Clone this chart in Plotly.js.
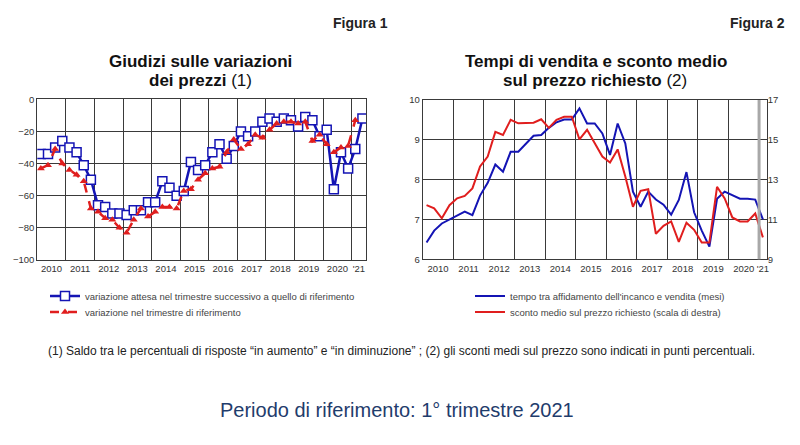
<!DOCTYPE html>
<html>
<head>
<meta charset="utf-8">
<script src="https://cdn.plot.ly/plotly-3.0.1.min.js"></script>
<style>
  body { margin: 0; background: #fff; }
  #chart { width: 800px; height: 445px; }
</style>
</head>
<body>
<div id="chart"></div>
<script>
// ---------------------------------------------------------------
// Data (quarterly, starting from 2010 Q1)
// ---------------------------------------------------------------
var years = [2010, 2011, 2012, 2013, 2014, 2015, 2016, 2017, 2018, 2019, 2020, 2021];
var yearLabels = ["2010", "2011", "2012", "2013", "2014", "2015", "2016", "2017", "2018", "2019", "2020", "'21"];

// Figura 1 - saldo risposte (2010Q1 .. 2021Q2)
var attesa = [
  -34, -34, -30, -26,
  -30, -33, -41, -50,
  -66, -67, -71, -71,
  -72, -69, -69, -64,
  -64, -51, -55, -60,
  -57, -39, -44, -41,
  -33, -28, -37, -29,
  -20, -23, -20, -14,
  -12, -14, -12, -13,
  -17, -11, -13, -23,
  -19, -56, -33, -43,
  -31, -12
];
// (2010Q1 .. 2021Q1)
var riferimento = [
  -43, -41, -31, -40,
  -44, -47, -51, -68,
  -70, -74, -75, -80,
  -83, -75, -68, -73,
  -70, -67, -67, -68,
  -57, -56, -50, -46,
  -43, -42, -33, -25,
  -31, -28, -22, -24,
  -19, -15, -14, -14,
  -15, -14, -26, -22,
  -28, -33, -30, -29,
  -13
];

// Figura 2 - tempi di vendita (mesi) e sconto medio (%)
var tempoMesi = [
  6.42, 6.72, 6.90, 7.00,
  7.10, 7.20, 7.11, 7.60,
  7.92, 8.38, 8.20, 8.70,
  8.70, 8.90, 9.10, 9.12,
  9.30, 9.44, 9.51, 9.51,
  9.79, 9.41, 9.41, 9.16,
  8.62, 9.41, 8.91, 7.70,
  7.32, 7.70, 7.50, 7.37,
  7.12, 7.49, 8.19, 7.18,
  6.72, 6.32, 7.52, 7.70,
  7.62, 7.52, 7.52, 7.50,
  7.00
];
var scontoMedio = [
  11.72, 11.56, 11.06, 11.72,
  12.06, 12.18, 12.56, 13.66,
  14.16, 15.40, 15.24, 16.00,
  15.83, 15.86, 15.86, 16.03,
  15.60, 16.00, 16.16, 16.16,
  15.02, 15.50, 14.82, 14.16,
  13.86, 14.52, 13.16, 11.64,
  12.44, 12.52, 10.28, 10.68,
  10.90, 9.88, 10.84, 10.48,
  9.84, 9.84, 12.64, 12.06,
  11.10, 10.90, 10.90, 11.30,
  10.10
];

// quarter index -> position on a year axis (centre of the quarter)
function quarterX(arr) {
  return arr.map(function(v, i) { return years[0] + (i + 0.5) / 4; });
}

var FONT = "Liberation Sans, Arial, sans-serif";
var GRID = "#3a3a3a";
var BLUE = "#1414b4";
var RED = "#e01e1e";

// ---------------------------------------------------------------
// Traces
// ---------------------------------------------------------------
var traces = [
  {
    x: quarterX(attesa), y: attesa,
    name: "variazione attesa nel trimestre successivo a quello di riferimento",
    type: "scatter", mode: "lines+markers",
    line: {color: BLUE, width: 2.5},
    marker: {symbol: "square", size: 9, color: "#fff", line: {color: BLUE, width: 1.5}},
    xaxis: "x", yaxis: "y", legend: "legend"
  },
  {
    x: quarterX(riferimento), y: riferimento,
    name: "variazione nel trimestre di riferimento",
    type: "scatter", mode: "lines+markers",
    line: {color: RED, width: 2.5, dash: "dash"},
    marker: {symbol: "triangle-up", size: 7, color: RED},
    xaxis: "x", yaxis: "y", legend: "legend2"
  },
  {
    x: quarterX(tempoMesi), y: tempoMesi,
    name: "tempo tra affidamento dell'incanco e vendita (mesi)",
    type: "scatter", mode: "lines",
    line: {color: BLUE, width: 2},
    xaxis: "x2", yaxis: "y3", legend: "legend3"
  },
  {
    x: quarterX(scontoMedio), y: scontoMedio,
    name: "sconto medio sul prezzo richiesto (scala di destra)",
    type: "scatter", mode: "lines",
    line: {color: RED, width: 2},
    xaxis: "x2", yaxis: "y4", legend: "legend4"
  }
];

// ---------------------------------------------------------------
// Axes
// ---------------------------------------------------------------
var yearBounds = years.slice(1);
var leftTickVals = years.slice(0, -1).map(function(y) { return y + 0.5; }).concat([2021.25]);
var rightTickVals = years.slice(0, -1).map(function(y) { return y + 0.5; }).concat([2021.125]);

function xAxis(domain, range, tickvals, anchor) {
  return {
    domain: domain, range: range, anchor: anchor,
    tickmode: "array", tickvals: tickvals, ticktext: yearLabels,
    showgrid: false, zeroline: false, ticks: "",
    showline: true, mirror: true, linecolor: GRID, linewidth: 1,
    tickfont: {size: 9.5, color: "#333", family: FONT},
    minor: {tickmode: "array", tickvals: yearBounds, showgrid: true, gridcolor: GRID, gridwidth: 1, ticks: ""},
    fixedrange: true
  };
}

function yAxis(domain, range, dtick, extra) {
  var ax = {
    domain: domain, range: range, dtick: dtick, tick0: range[0],
    zeroline: false, ticks: "",
    tickfont: {size: 9.5, color: "#333", family: FONT},
    fixedrange: true
  };
  for (var k in extra) ax[k] = extra[k];
  return ax;
}

function legendAt(px, py) {
  return {
    x: px / 800, y: 1 - py / 445, xanchor: "left", yanchor: "middle",
    font: {size: 9.5, color: "#444", family: FONT},
    bgcolor: "rgba(0,0,0,0)", tracegroupgap: 0, itemwidth: 30
  };
}

var layout = {
  width: 800, height: 445, autosize: false,
  margin: {l: 0, r: 0, t: 0, b: 0},
  paper_bgcolor: "#fff", plot_bgcolor: "#fff",
  font: {family: FONT, color: "#222"},
  showlegend: true,

  xaxis: xAxis([0.0466, 0.4575], [2010, 2021.5], leftTickVals, "y"),
  yaxis: yAxis([0.4157, 0.7769], [-100, 0], 20,
    {anchor: "x", showgrid: true, gridcolor: GRID, showline: true, mirror: true, linecolor: GRID}),
  yaxis2: yAxis([0.4157, 0.7769], [-100, 0], 20,
    {anchor: "x", overlaying: "y", side: "right", showgrid: false}),

  xaxis2: xAxis([0.5284, 0.9584], [2010, 2021.25], rightTickVals, "y3"),
  yaxis3: yAxis([0.4173, 0.7753], [6, 10], 1,
    {anchor: "x2", showgrid: true, gridcolor: GRID, showline: true, mirror: true, linecolor: GRID}),
  yaxis4: yAxis([0.4173, 0.7753], [9, 17], 2,
    {anchor: "x2", overlaying: "y3", side: "right", showgrid: false}),

  legend: legendAt(45, 296),
  legend2: legendAt(45, 312),
  legend3: legendAt(470, 296),
  legend4: legendAt(470, 312),

  shapes: [
    {type: "line", xref: "x2", yref: "y3 domain", x0: years[years.length - 1], x1: years[years.length - 1],
     y0: 0, y1: 1, line: {color: "#a8a8a8", width: 3}, layer: "above"}
  ],

  annotations: [
    {text: "<b>Figura 1</b>", x: 390 / 800, y: 1 - 23 / 445, xref: "paper", yref: "paper",
     xanchor: "right", yanchor: "middle", showarrow: false, font: {size: 14, color: "#222"}},
    {text: "<b>Figura 2</b>", x: 787 / 800, y: 1 - 23 / 445, xref: "paper", yref: "paper",
     xanchor: "right", yanchor: "middle", showarrow: false, font: {size: 14, color: "#222"}},

    {text: "<b>Giudizi sulle variazioni</b>", x: 200 / 800, y: 1 - 62 / 445, xref: "paper", yref: "paper",
     xanchor: "center", yanchor: "middle", showarrow: false, font: {size: 17, color: "#111"}},
    {text: "<b>dei prezzi</b> (1)", x: 201 / 800, y: 1 - 80 / 445, xref: "paper", yref: "paper",
     xanchor: "center", yanchor: "middle", showarrow: false, font: {size: 17, color: "#111"}},

    {text: "<b>Tempi di vendita e sconto medio</b>", x: 596 / 800, y: 1 - 62 / 445, xref: "paper", yref: "paper",
     xanchor: "center", yanchor: "middle", showarrow: false, font: {size: 17, color: "#111"}},
    {text: "<b>sul prezzo richiesto</b> (2)", x: 595 / 800, y: 1 - 80 / 445, xref: "paper", yref: "paper",
     xanchor: "center", yanchor: "middle", showarrow: false, font: {size: 17, color: "#111"}},

    {text: "(1) Saldo tra le percentuali di risposte \u201cin aumento\u201d e \u201cin diminuzione\u201d ; (2) gli sconti medi sul prezzo sono indicati in punti percentuali.",
     x: 402 / 800, y: 1 - 351 / 445, xref: "paper", yref: "paper",
     xanchor: "center", yanchor: "middle", showarrow: false, font: {size: 12, color: "#222"}},

    {text: "Periodo di riferimento: 1\u00b0 trimestre 2021", x: 397 / 800, y: 1 - 410 / 445, xref: "paper", yref: "paper",
     xanchor: "center", yanchor: "middle", showarrow: false, font: {size: 20, color: "#1f3c6c"}}
  ]
};

Plotly.newPlot("chart", traces, layout, {staticPlot: true, displayModeBar: false});
</script>
</body>
</html>
